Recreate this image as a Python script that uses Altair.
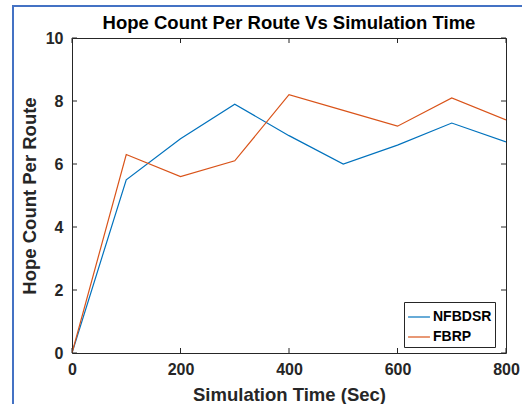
import altair as alt
import pandas as pd

times = [0, 100, 200, 300, 400, 500, 600, 700, 800]
nfbdsr = [0, 5.5, 6.8, 7.9, 6.9, 6.0, 6.6, 7.3, 6.7]
fbrp = [0, 6.3, 5.6, 6.1, 8.2, 7.7, 7.2, 8.1, 7.4]
series_names = ["NFBDSR", "FBRP"]
series_colors = ["#0072BD", "#D95319"]
x_ticks = [0, 200, 400, 600, 800]
y_ticks = [0, 2, 4, 6, 8, 10]

W, H = 434, 315
FONT = "Liberation Sans"
TXT = "#262626"

rows = []
for t, a, b in zip(times, nfbdsr, fbrp):
    rows.append({"time": t, "value": a, "series": "NFBDSR"})
    rows.append({"time": t, "value": b, "series": "FBRP"})
df = pd.DataFrame(rows)

xs = alt.Scale(domain=[0, 800], nice=False)
ys = alt.Scale(domain=[0, 10], nice=False)

lines = alt.Chart(df).mark_line(strokeWidth=1.2, clip=True).encode(
    x=alt.X("time:Q", scale=xs, title="Simulation Time (Sec)",
            axis=alt.Axis(values=x_ticks, ticks=False, domain=False, grid=False,
                          labelPadding=8, titlePadding=8, labelFlush=False,
                          labelFont=FONT, labelFontSize=16, labelFontWeight="bold", labelColor=TXT,
                          titleFont=FONT, titleFontSize=18.5, titleFontWeight="bold", titleColor=TXT)),
    y=alt.Y("value:Q", scale=ys, title="Hope Count Per Route",
            axis=alt.Axis(values=y_ticks, ticks=False, domain=False, grid=False,
                          labelPadding=9, titlePadding=6, labelFlush=False,
                          labelFont=FONT, labelFontSize=16, labelFontWeight="bold", labelColor=TXT,
                          titleFont=FONT, titleFontSize=18.5, titleFontWeight="bold", titleColor=TXT)),
    color=alt.Color("series:N", sort=series_names,
                    scale=alt.Scale(domain=series_names, range=series_colors),
                    legend=alt.Legend(title=None, orient="none", legendX=332, legendY=264,
                                      symbolType="stroke", symbolSize=480, symbolStrokeWidth=1.2,
                                      labelFontSize=14, labelFont=FONT, labelFontWeight="bold",
                                      labelColor="#000000", fillColor="white",
                                      strokeColor="#262626", padding=3, rowPadding=1,
                                      labelOffset=2)),
)

xt = pd.DataFrame({"t": x_ticks})
yt = pd.DataFrame({"v": y_ticks})
tick_col = TXT
xb = alt.Chart(xt).mark_rule(color=tick_col, strokeWidth=1).encode(
    x=alt.X("t:Q", scale=xs), y=alt.value(H), y2=alt.value(H - 5))
xtop = alt.Chart(xt).mark_rule(color=tick_col, strokeWidth=1).encode(
    x=alt.X("t:Q", scale=xs), y=alt.value(0), y2=alt.value(5))
yl = alt.Chart(yt).mark_rule(color=tick_col, strokeWidth=1).encode(
    y=alt.Y("v:Q", scale=ys), x=alt.value(0), x2=alt.value(5))
yr = alt.Chart(yt).mark_rule(color=tick_col, strokeWidth=1).encode(
    y=alt.Y("v:Q", scale=ys), x=alt.value(W), x2=alt.value(W - 5))

frame_df = pd.DataFrame({"k": [0]})
frame_left = alt.Chart(frame_df).mark_rule(color="#4472C4", strokeWidth=2, clip=False).encode(
    x=alt.value(-59), y=alt.value(-32), y2=alt.value(366))
frame_top = alt.Chart(frame_df).mark_rule(color="#4472C4", strokeWidth=2, clip=False).encode(
    x=alt.value(-60), x2=alt.value(450), y=alt.value(-32))

chart = alt.layer(lines, xb, xtop, yl, yr, frame_left, frame_top).properties(
    width=W, height=H,
    title=alt.Title("Hope Count Per Route Vs Simulation Time", font=FONT, fontSize=18.5,
                    fontWeight="bold", color="#000000", offset=-27, anchor="middle",
                    frame="group"),
    autosize=alt.AutoSizeParams(type="none"),
    padding={"left": 72, "top": 38, "right": 16, "bottom": 51},
    background="white",
).configure_view(stroke=TXT, strokeWidth=1)

chart.save("out.html", embed_options={"renderer": "svg", "actions": False})
